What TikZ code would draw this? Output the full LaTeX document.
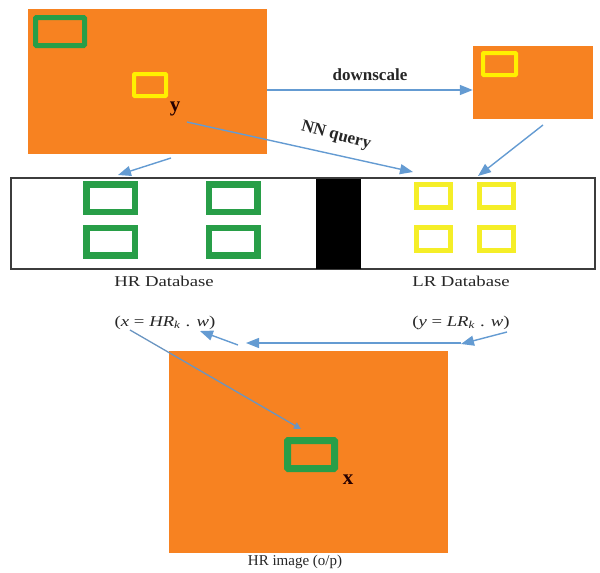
\documentclass[tikz,border=0pt]{standalone}
\usepackage{fontspec}
\setmainfont{Liberation Serif}
\usetikzlibrary{arrows.meta,calc}
\definecolor{orng}{RGB}{247,130,33}
\definecolor{grn}{RGB}{40,158,72}
\definecolor{yel}{RGB}{255,240,0}
\definecolor{yeldb}{RGB}{245,238,40}
\definecolor{arblue}{RGB}{100,155,210}
\definecolor{dbline}{RGB}{60,60,60}
\tikzset{
  img/.style={fill=orng, draw=none, inner sep=0pt, rectangle},
  gbox/.style={draw=grn, line width=#1, inner sep=0pt, rectangle, rounded corners=0.8pt},
  ybox/.style={draw=yel, line width=#1, inner sep=0pt, rectangle, rounded corners=0.8pt},
  ydbbox/.style={draw=yeldb, line width=5pt, inner sep=0pt, rectangle, minimum width=34pt, minimum height=23pt},
  gdbbox/.style={draw=grn, line width=6.5pt, inner sep=0pt, rectangle, minimum width=48.5pt, minimum height=27.5pt},
  arr/.style={draw=arblue, line width=1.4pt, -{Triangle[length=13pt,width=10pt]}},
  lbl/.style={font=\fontsize{15}{17}\selectfont, inner sep=0pt, text=black!85},
  blbl/.style={font=\fontsize{17}{19}\selectfont\bfseries, inner sep=0pt, text=black!85},
  var/.style={font=\fontsize{21}{23}\selectfont\bfseries, inner sep=0pt, text=black!85!red},
}
\newcommand{\wide}[1]{\scalebox{1.25}[1]{#1}}
\begin{document}
\begin{tikzpicture}[x=1pt,y=-1pt]
\useasboundingbox (0,0) rectangle (600,573);
% top-left HR input image
\node[img, minimum width=239pt, minimum height=145pt] (big) at (147.5,81.5) {};
\node[gbox=5pt, minimum width=49pt, minimum height=28pt] (bigg) at (60,31.5) {};
\node[ybox=4pt, minimum width=32pt, minimum height=22pt] (bigy) at (150,85) {};
\node[var] (ylab) at (175,109) {y};
% small LR image
\node[img, minimum width=120pt, minimum height=73pt] (small) at (533,82.5) {};
\node[ybox=4pt, minimum width=33pt, minimum height=22pt] (smally) at (499.5,64) {};
% database strip
\node[draw=dbline, line width=1.5pt, inner sep=0pt, minimum width=584pt, minimum height=91pt] (db) at (303,223.5) {};
\node[fill=black, inner sep=0pt, minimum width=45pt, minimum height=90pt] (bar) at (338.5,223.5) {};
\node[gdbbox] (g1) at (110.5,198) {};
\node[gdbbox] (g2) at (233,198) {};
\node[gdbbox] (g3) at (110.5,241.5) {};
\node[gdbbox] (g4) at (233,241.5) {};
\node[ydbbox] (y1) at (433.5,196) {};
\node[ydbbox] (y2) at (496.5,196) {};
\node[ydbbox] (y3) at (433.5,239) {};
\node[ydbbox] (y4) at (496.5,239) {};
\node[lbl] (hrdb) at (164,281) {\wide{HR Database}};
\node[lbl] (lrdb) at (461,281) {\wide{LR Database}};
% formulas
\node[lbl] (xf) at (165,323) {\wide{(\textit{x} = \textit{HR}\textsubscript{\textit{k}} . \textit{w})}};
\node[lbl] (yf) at (461,323) {\wide{(\textit{y} = \textit{LR}\textsubscript{\textit{k}} . \textit{w})}};
% output image
\node[img, minimum width=279pt, minimum height=202pt] (out) at (308.5,452) {};
\node[gbox=7pt, minimum width=47pt, minimum height=28pt] (outg) at (311,454.5) {};
\node[var] (xlab) at (348,480) {x};
\node[lbl] (outlbl) at (295,562) {HR image (o/p)};
% connector end points
\coordinate (a1s) at (171,158);
\coordinate (a1e) at (118,175);
\coordinate (nns) at (187,122);
\coordinate (nne) at (413,172);
\coordinate (a3s) at (543,125);
\coordinate (a3e) at (478,176);
\coordinate (h1s) at (507,332);
\coordinate (h1e) at (461,344);
\coordinate (h2s) at (461,343);
\coordinate (h2e) at (246,343);
\coordinate (h3s) at (238,345);
\coordinate (h3e) at (200,331);
\coordinate (ds) at (130,330);
\coordinate (de) at (301,429);
% connectors
\draw[arr] ([yshift=-8.5pt]big.east) -- node[blbl, above=9pt] (dslbl) {downscale} ([yshift=-7.5pt]small.west);
\draw[arr] (a1s) -- (a1e);
\draw[arr] (nns) -- (nne);
\node[blbl, rotate=-15] (nnlbl) at (336,136) {NN query};
\draw[arr] (a3s) -- (a3e);
\draw[arr] (h1s) -- (h1e);
\draw[arr] (h2s) -- (h2e);
\draw[arr] (h3s) -- (h3e);
\draw[draw=arblue!80!gray, line width=1.3pt, -{Triangle[length=7pt,width=7pt]}] (ds) -- (de);
\end{tikzpicture}
\end{document}
